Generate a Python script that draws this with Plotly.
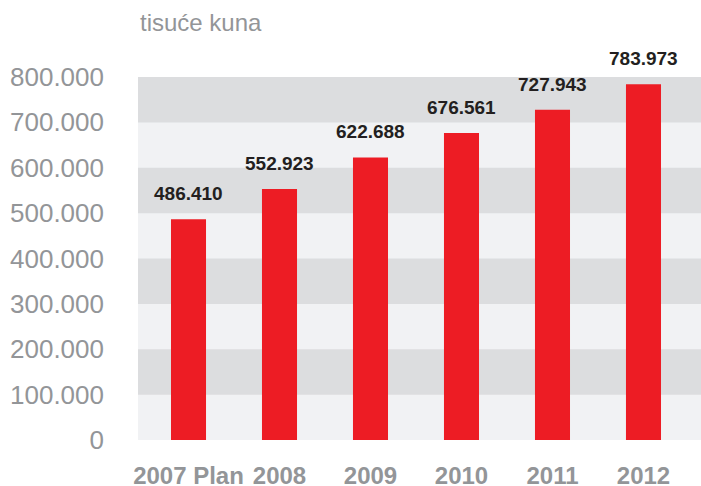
import plotly.graph_objects as go

categories = ["2007 Plan", "2008", "2009", "2010", "2011", "2012"]
values = [486410, 552923, 622688, 676561, 727943, 783973]
y_ticks = [0, 100000, 200000, 300000, 400000, 500000, 600000, 700000, 800000]
y_tick_labels = ["0", "100.000", "200.000", "300.000", "400.000",
                 "500.000", "600.000", "700.000", "800.000"]
unit_label = "tisuće kuna"

RED = "#ed1c24"
GREY_TEXT = "#939598"
DARK_TEXT = "#231f20"
BAND_DARK = "#dcdddf"
BAND_LIGHT = "#f1f2f4"


def fmt(v):
    return f"{v:,}".replace(",", ".")


fig = go.Figure(
    go.Bar(
        x=categories,
        y=values,
        marker=dict(color=RED, line=dict(width=0)),
        width=0.385,
        hoverinfo="x+y",
    )
)

# alternating bands: every second 100k step is darker
for lo, hi in zip(y_ticks[1::2], y_ticks[2::2]):
    fig.add_shape(type="rect", xref="paper", yref="y", x0=0, x1=1, y0=lo, y1=hi,
                  fillcolor=BAND_DARK, line=dict(width=0), layer="below")

# value labels above bars (x given as category index)
for i, v in enumerate(values):
    fig.add_annotation(x=i, y=v, text=fmt(v), showarrow=False,
                       yanchor="bottom", yshift=13,
                       font=dict(family="Liberation Sans", size=19, color=DARK_TEXT, weight="bold"))

fig.add_annotation(xref="paper", yref="paper", x=0, y=1, xanchor="left", yanchor="middle",
                   xshift=0, yshift=55, text=unit_label, showarrow=False,
                   font=dict(family="Liberation Sans", size=24, color=GREY_TEXT))

fig.update_layout(
    width=701,
    height=486,
    margin=dict(l=138, r=0, t=77, b=46),
    paper_bgcolor="white",
    plot_bgcolor=BAND_LIGHT,
    showlegend=False,
    xaxis=dict(
        type="category",
        range=[-0.555, 5.632],
        automargin=False,
        showgrid=False,
        zeroline=False,
        showline=False,
        ticks="",
        ticklabelstandoff=19,
        tickfont=dict(family="Liberation Sans", size=24, color=GREY_TEXT, weight="bold"),
    ),
    yaxis=dict(
        range=[0, 800000],
        automargin=False,
        tickvals=y_ticks,
        ticktext=y_tick_labels,
        showgrid=False,
        zeroline=False,
        showline=False,
        ticks="",
        ticklabelstandoff=33,
        tickfont=dict(family="Liberation Sans", size=26, color=GREY_TEXT),
    ),
)

# drop the default page margin so the figure fills the window exactly
fig.write_html("out.html", config={"displayModeBar": False},
               post_script="document.body.style.margin='0';")
